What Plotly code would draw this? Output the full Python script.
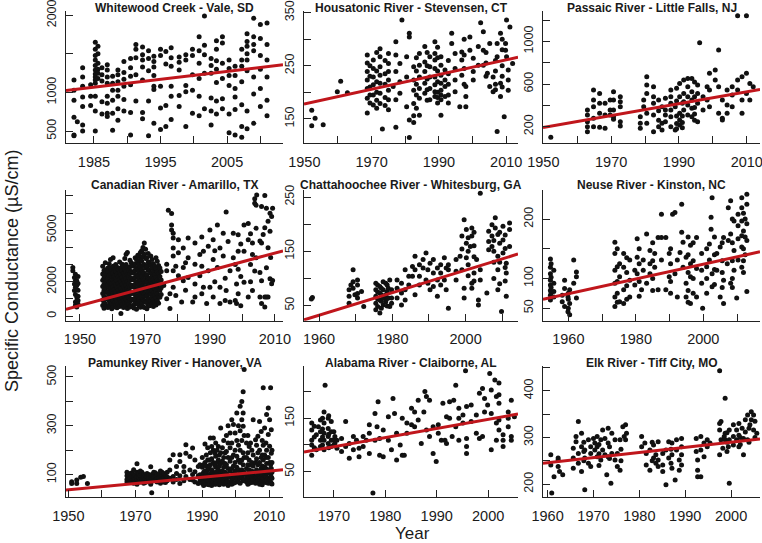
import plotly.graph_objects as go

# values: (sample year, [specific conductance values])
whitewood = [
    (1982.0, [1160, 1030, 900, 680, 450, 440]), (1982.5, [620]),
    (1983.3, [1320, 1200, 1080, 940, 820, 580, 500]), (1984.5, [1100, 950, 830]),
    (1985.2, [1650, 1560, 1480, 1420, 1350, 1290, 1240, 1200, 1160, 1120, 950, 760, 500]),
    (1985.6, [1600, 1500, 1380, 1300, 1250, 1180]), (1986.2, [1320, 1230, 1150, 880, 720]),
    (1987.0, [1360, 1290, 1200, 1120, 950, 860, 730, 690]), (1987.8, [1210, 1120, 1030, 900, 730, 510]),
    (1988.6, [1290, 1230, 1140, 1030, 950, 790, 640]), (1989.5, [1400, 1260, 1170, 1080, 910, 760]),
    (1990.5, [1440, 1320, 1210, 1100, 740, 450]), (1991.3, [1620, 1560, 1450, 1230, 890]),
    (1992.3, [1590, 1490, 1420, 1330, 1160, 740, 660]), (1993.2, [1540, 1440, 1280, 890, 440]),
    (1994.0, [1470, 1400, 1330, 1220, 1080, 1040, 600]), (1995.0, [1560, 1480, 1080, 800, 520]),
    (1995.8, [1530, 1370, 830, 560]), (1996.6, [1580, 1450, 1340, 1080, 950, 650]),
    (1997.8, [1460, 1390, 1290, 960, 820]), (1998.8, [1490, 1420, 1090, 1010, 560]),
    (1999.8, [1560, 1480, 1230, 1030, 730]), (2000.8, [1720, 1540, 1380, 1180, 950, 700]),
    (2001.6, [1990, 1610, 1490, 1250, 790]), (2002.6, [1440, 1350, 1250, 930, 760, 580]),
    (2003.4, [1670, 1560, 1410, 1300, 1130, 890, 720]), (2004.3, [1720, 1640, 1380, 1180, 920, 790]),
    (2005.3, [1420, 1310, 1220, 1090, 720, 480]), (2006.2, [1340, 1220, 1050, 940, 780, 450]),
    (2007.2, [1560, 1420, 1340, 1140, 840, 560, 420]), (2008.0, [1760, 1660, 1600, 1500, 1420, 1280, 760, 530]),
    (2009.0, [1960, 1720, 1620, 1540, 1200, 980, 600]), (2010.0, [1880, 1700, 1480, 1300, 1050, 820]),
    (2011.0, [1900, 1620, 1420, 1200, 900, 700]),
]
housatonic = [
    (1952.2, [166, 137]), (1953.2, [151]), (1955.6, [139]), (1959.8, [201]), (1960.8, [221]), (1962.8, [199]),
    (1968.7, [270, 255, 239, 223, 207, 189, 161]), (1969.5, [250, 230, 210, 195, 180]),
    (1970.5, [261, 245, 229, 214, 195, 176]), (1971.5, [275, 240, 220, 200, 185, 170]),
    (1972.5, [282, 267, 248, 232, 217, 198, 179]), (1973.2, [131]), (1974.0, [260, 235, 215, 190, 175]),
    (1975.0, [273, 254, 239, 223, 204, 186, 167]), (1976.4, [211]), (1977.2, [295, 270, 239, 186, 134]),
    (1978.4, [254, 220, 198]), (1979.0, [336]), (1980.4, [267, 229, 173]), (1981.2, [311, 304, 148, 115]),
    (1982.5, [248, 223, 204, 179, 156, 143]), (1983.3, [265, 240, 215, 195, 170]),
    (1984.2, [273, 251, 229, 207, 189, 157]), (1985.8, [286, 257, 239, 217, 198]),
    (1986.5, [275, 250, 225, 205, 185]), (1987.3, [267, 248, 229, 207, 186]),
    (1988.8, [295, 273, 261, 245, 229, 214, 201, 192]), (1989.6, [285, 265, 240, 220, 200, 190, 180]),
    (1990.6, [267, 251, 232, 217, 204, 195, 186, 157]), (1991.8, [242, 223, 211, 192]),
    (1992.8, [260, 235, 215, 195, 180]), (1993.8, [311, 292]), (1994.8, [273, 245, 223, 201]),
    (1996.2, [173]), (1996.8, [276, 261, 232]), (1997.5, [300, 270, 245, 215]), (1998.0, [211, 192, 173]),
    (1999.2, [304, 279]), (2000.2, [264, 239, 223]), (2001.7, [286, 251]), (2002.4, [331]),
    (2003.2, [314, 251, 279]), (2004.0, [275, 255, 230]), (2004.4, [236]), (2005.1, [292, 211]),
    (2006.1, [201, 229]), (2006.8, [260, 240, 215, 205]), (2007.3, [126, 292, 267]), (2008.3, [217, 311, 192]),
    (2008.8, [300, 280, 250, 230, 210]), (2009.4, [154]), (2009.8, [279, 292]), (2010.1, [336, 267]),
    (2010.6, [242, 223, 204]), (2011.1, [323]), (2011.9, [254]),
]
passaic = [
    (1952.2, [100]), (1963.0, [356, 309, 247, 200, 153]), (1964.8, [544, 450, 388, 278, 200]),
    (1966.6, [512, 419, 325, 194]), (1968.2, [419, 309, 184]), (1969.7, [450, 356, 309]),
    (1970.7, [528, 450, 356, 294, 269]), (1972.7, [481, 434, 388, 247, 206]), (1978.6, [294, 231, 184]),
    (1979.6, [450, 388]), (1980.5, [591, 669, 512, 325, 231]), (1982.5, [575, 481, 419, 309, 153]),
    (1984.0, [450, 350, 260, 200]), (1985.0, [388, 231, 169]), (1986.0, [466, 356, 309, 247]),
    (1987.6, [544, 481, 419, 356, 294, 200]), (1988.9, [388, 169]), (1989.3, [560, 440, 300, 230, 180]),
    (1990.2, [606, 481, 325, 262, 216]), (1991.0, [420, 300, 240, 190]), (1991.4, [638, 512, 434, 356]),
    (1992.6, [653, 575, 481, 403, 309]), (1993.8, [653, 528, 450, 372, 294]),
    (1994.6, [620, 480, 380, 320, 260]), (1995.5, [591, 512, 419, 247]), (1996.1, [987]),
    (1997.1, [481, 356]), (1998.3, [575, 450]), (1999.0, [700, 388, 544]), (2000.7, [731, 638]),
    (2001.7, [919, 575, 325]), (2002.8, [450, 278, 262]), (2004.2, [544, 403, 325]),
    (2005.7, [575, 388, 497]), (2007.3, [1240, 638, 544]), (2008.6, [669, 450, 325]),
    (2009.9, [1240, 700, 512]), (2010.9, [606, 450]), (2011.9, [575]),
]
canadian = [
    (1947.8, [2640, 2830]), (1948.3, [2250, 1870, 1490]), (1948.6, [2440, 2060, 1680, 1260, 820, 630]),
    (1949.0, [2060, 1780, 1110, 880, 535]), (1949.4, [2300, 1900, 1500, 1150, 900, 700]),
    (1957.0, [2900, 2450, 2080, 1720, 1310, 940, 620]), (1957.4, [2650, 2230, 1850, 1500, 1150, 780, 450]),
    (1957.8, [3100, 2700, 2330, 1960, 1580, 1090, 700]), (1958.2, [2480, 2120, 1760, 1380, 1010, 560]),
    (1958.6, [2800, 2590, 2200, 1820, 1420, 980, 500]), (1959.0, [3050, 2360, 1980, 1640, 1260, 880, 650]),
    (1959.4, [3300, 2780, 2410, 2020, 1600, 1200, 800]), (1959.8, [2580, 2250, 1870, 1450, 1070, 720, 430]),
    (1960.2, [3400, 2900, 2510, 2100, 1690, 1320, 910, 520]), (1960.6, [2700, 2320, 1940, 1530, 1180, 760]),
    (1961.0, [3000, 2610, 2180, 1790, 1390, 1010, 610]), (1961.4, [2850, 2440, 2060, 1650, 1240, 850, 480]),
    (1961.8, [2720, 2290, 1900, 1510, 1110, 700]), (1962.2, [3150, 2530, 2140, 1730, 1330, 940, 560]),
    (1962.6, [2820, 2400, 2010, 1600, 1210, 800, 150]), (1963.0, [3020, 2640, 2260, 1860, 1460, 1060, 680]),
    (1963.4, [2900, 2500, 2090, 1700, 1290, 890, 500]), (1963.8, [3350, 2710, 2330, 1930, 1540, 1140, 760]),
    (1964.2, [3600, 3000, 2600, 2210, 1810, 1410, 1000, 600]),
    (1964.6, [3700, 2820, 2420, 2020, 1620, 1220, 820, 440]), (1965.0, [2700, 2300, 1890, 1490, 1090, 690]),
    (1965.4, [3250, 2880, 2480, 2080, 1680, 1280, 880, 530]), (1965.8, [3100, 2600, 2200, 1800, 1400, 1000, 580]),
    (1966.2, [2960, 2560, 2160, 1760, 1360, 960, 620]), (1966.6, [2900, 2500, 2100, 1700, 1300, 900, 470]),
    (1967.0, [3400, 3050, 2650, 2250, 1850, 1450, 1050, 700]),
    (1967.4, [3300, 2800, 2400, 2000, 1600, 1200, 800, 400]),
    (1967.8, [3550, 3150, 2720, 2320, 1920, 1520, 1120, 740]),
    (1968.2, [3500, 3000, 2600, 2200, 1800, 1400, 1000, 600]),
    (1968.6, [3700, 3300, 2850, 2450, 2050, 1650, 1250, 850, 520]),
    (1969.0, [3800, 3200, 2700, 2300, 1900, 1500, 1100, 760]),
    (1969.4, [4000, 3450, 2950, 2550, 2150, 1750, 1350, 950, 560]),
    (1969.8, [4260, 3600, 3000, 2500, 2100, 1700, 1300, 900, 500]),
    (1970.2, [3900, 3350, 2800, 2350, 1950, 1550, 1150, 800]),
    (1970.6, [3400, 2900, 2400, 2000, 1600, 1200, 800, 420]),
    (1971.0, [3650, 3150, 2650, 2200, 1800, 1400, 1000, 650]),
    (1971.4, [3100, 2700, 2200, 1800, 1400, 1000, 600]), (1971.8, [3500, 2950, 2500, 2050, 1650, 1250, 850]),
    (1972.2, [3300, 2800, 2300, 1900, 1500, 1100, 700]), (1972.6, [3050, 2600, 2150, 1750, 1350, 950, 560]),
    (1973.0, [2900, 2400, 2000, 1600, 1200, 800]), (1973.4, [3400, 2750, 2250, 1850, 1450, 1050, 650]),
    (1973.8, [3200, 2600, 2100, 1700, 1300, 900]), (1974.2, [2950, 2450, 2000, 1550, 1150, 750]),
    (1974.6, [2800, 2300, 1900, 1500, 1100]), (1975.0, [2600, 2100, 1650, 1250]),
    (1975.8, [1780]), (1976.7, [3020, 2640, 1010]), (1977.2, [6170]),
    (1977.7, [1300, 440]), (1978.2, [5980, 5310, 5020]), (1978.7, [4550, 4830, 3970, 3500, 2640, 1680]),
    (1979.5, [2900, 1200]), (1980.3, [4450, 3690, 2350]), (1981.3, [820]), (1981.8, [3970, 2830, 2060]),
    (1982.5, [1500, 3100]), (1983.3, [4550, 3400, 2250]), (1984.7, [820]), (1985.4, [4260, 3020, 1870, 1110]),
    (1986.9, [3590, 2350]), (1987.5, [2900, 1300, 4600]), (1988.0, [3780, 1680]), (1989.0, [725]),
    (1989.5, [4070, 2640]), (1990.0, [5020, 1680]), (1991.0, [3300, 4450, 1110]), (1991.5, [2000, 3800]),
    (1992.3, [5310, 2830]), (1993.1, [3970, 1680, 725]), (1994.1, [4830, 3500]), (1994.7, [2200, 900]),
    (1995.0, [6070, 1490]), (1995.6, [4350]), (1996.2, [820, 2640]), (1997.2, [3400, 4830]),
    (1997.8, [3000, 900]), (1998.2, [1870, 725]), (1998.7, [4740, 3780, 2730, 1300]),
    (1999.5, [2300, 4200, 600]), (2000.5, [5310, 3780, 1970]), (2001.8, [5400, 4450, 1110]),
    (2002.5, [3000, 2000, 4800]), (2003.1, [4260, 3590, 1490]), (2003.8, [6840, 6570, 2630]),
    (2004.2, [6460, 5120, 3400]), (2004.4, [7050]), (2005.4, [2540, 1110, 4370]),
    (2005.9, [6380, 4260, 2060, 730]), (2006.4, [4750]), (2006.9, [7030, 5140, 1110, 535]),
    (2007.4, [6280, 2820, 1110]), (2007.9, [5520, 3980, 1110]), (2008.5, [5990, 4940, 2170]),
    (2008.7, [3410]), (2009.0, [5800, 1880]), (2009.3, [6280, 2070]),
]
chattahoochee = [
    (1957.9, [62]), (1958.2, [65]), (1968.2, [67, 79, 54]), (1968.7, [88]), (1969.3, [94, 116, 82]),
    (1969.8, [70]), (1970.5, [97, 88, 72, 64]), (1971.6, [76]), (1972.2, [48]),
    (1975.5, [54, 67, 79, 91, 42]), (1976.0, [48, 62, 75, 88]), (1976.6, [60, 73, 85, 36]),
    (1977.0, [45, 58, 70, 82]), (1977.5, [94, 51, 64, 79]), (1978.2, [91, 70, 57]), (1978.6, [49, 63, 76, 88]),
    (1978.9, [82, 64]), (1979.3, [97, 48]), (1979.8, [64, 79, 54]), (1981.3, [82, 97, 64]),
    (1982.5, [73, 91, 51]), (1983.5, [116, 79, 60]), (1984.5, [104, 88]), (1985.5, [122, 104]),
    (1986.2, [141, 116, 70]), (1987.4, [125, 104, 88]), (1988.4, [119, 135]), (1989.2, [147, 97]),
    (1989.7, [116, 91]), (1990.3, [128, 79]), (1991.2, [110, 135, 85]), (1992.3, [119, 97, 67]),
    (1993.2, [125, 110, 88]), (1994.2, [138, 97]), (1994.7, [119, 79]), (1995.3, [116, 45, 125]),
    (1997.4, [135, 113, 97]), (1998.5, [141]), (1999.0, [178, 154, 116]), (1999.6, [208, 82, 64]),
    (2000.2, [190, 165, 138]), (2000.7, [175, 150, 125, 105]), (2001.3, [159]), (2001.7, [193, 178, 91, 82]),
    (2002.3, [185, 160, 140, 110, 95]), (2003.0, [135]), (2003.5, [60, 51]), (2004.0, [257, 116, 97]),
    (2005.8, [73]), (2006.3, [153, 168, 187]), (2007.2, [178, 199, 159]), (2007.7, [170, 150, 130, 100]),
    (2008.1, [212, 193]), (2008.8, [181, 141, 116, 79]), (2009.3, [185, 165, 130, 90]), (2009.8, [39]),
    (2010.2, [196, 171, 147]), (2010.8, [180, 155, 120, 95]), (2011.1, [128, 110, 67]), (2012.0, [202, 159, 190]),
]
neuse = [
    (1954.7, [133, 119, 108, 97, 89, 80, 72, 64]), (1954.9, [125, 102, 85, 76]), (1955.7, [92, 114, 78, 69]),
    (1958.2, [72, 61]), (1958.9, [97, 83, 53]), (1959.9, [69, 44]), (1960.0, [75, 65, 50]),
    (1960.4, [39, 81, 58]), (1961.6, [131, 92]), (1962.4, [67, 103, 111]),
    (1973.8, [161, 142, 114, 92, 69, 53]), (1974.5, [150, 120, 95, 75, 60]), (1975.2, [125, 103, 61]),
    (1976.4, [142, 119, 81, 58]), (1977.3, [135, 110, 88, 65]), (1978.2, [131, 97, 69]), (1979.7, [114, 89]),
    (1980.4, [167, 136, 108]), (1981.0, [150, 125, 95, 70]), (1981.7, [81]), (1982.2, [114, 131]),
    (1983.2, [175, 92]), (1984.2, [125, 147, 108]), (1985.0, [160, 130, 100, 80]), (1985.6, [142, 119]),
    (1986.6, [169, 81]), (1987.6, [208, 169, 131]), (1988.9, [169, 81]), (1989.9, [103, 142]),
    (1990.3, [150, 125, 95, 75]), (1990.9, [208]), (1991.6, [108, 211]), (1992.3, [131, 69]), (1993.1, [144]),
    (1993.6, [225, 178]), (1994.0, [161, 119]), (1994.9, [136, 92, 69]), (1995.5, [170, 140, 110, 80, 60]),
    (1996.2, [125, 156, 103, 58]), (1997.0, [160, 130, 100, 75]), (1998.0, [169, 117, 69]),
    (1999.5, [142, 114, 92]), (1999.8, [50]), (2001.0, [150, 120, 100, 75]), (2001.8, [131, 158]),
    (2002.3, [183, 203]), (2002.6, [236, 108, 86]), (2003.3, [170, 140, 115, 90]), (2004.0, [142, 114]),
    (2005.0, [153, 69]), (2005.6, [160, 130, 110, 85]), (2006.0, [169, 58, 97]), (2007.1, [125]),
    (2007.4, [219, 164]), (2008.1, [231, 92, 175]), (2008.6, [200, 160, 130, 100, 85]),
    (2009.1, [197, 147, 114]), (2009.9, [67]), (2010.3, [208, 189, 167, 131]),
    (2011.4, [219, 236, 197, 172, 153, 119]), (2011.9, [210, 180, 150, 130, 110]), (2012.4, [200, 170, 140]),
    (2012.9, [242, 225, 192, 164, 78]),
]
pamunkey = [
    (1951.0, [71, 64]), (1952.5, [64, 78]), (1953.7, [89]), (1954.5, [92]), (1955.7, [64]),
    (1967.5, [95, 80, 70, 110]), (1968.0, [90, 78, 100]), (1968.5, [105, 85, 70]), (1969.0, [92, 75, 108]),
    (1969.5, [100, 80, 65, 120]), (1970.0, [98, 82, 70]), (1970.5, [144, 110, 90, 75, 60]),
    (1971.0, [105, 88, 72]), (1971.5, [95, 80, 70, 115]), (1972.0, [92, 78, 110]), (1972.5, [100, 85, 65]),
    (1973.0, [97, 82, 68]), (1973.5, [105, 90, 75]), (1974.0, [100, 85, 72]), (1974.6, [132, 95, 80, 60]),
    (1974.9, [26]), (1975.0, [95, 80, 100]), (1975.5, [110, 90, 75]), (1976.0, [108, 92, 78]),
    (1976.5, [100, 85, 70]), (1977.0, [100, 85, 72]), (1977.5, [115, 95, 80, 65]), (1978.0, [98, 82, 110]),
    (1978.5, [105, 85, 70]), (1979.0, [95, 80, 68]), (1979.5, [110, 90, 75]),
    (1980.3, [160, 119, 85]), (1981.3, [181, 92, 70]), (1982.3, [133, 105, 80]), (1983.3, [154, 181, 64, 95]),
    (1984.5, [133, 112, 75]), (1985.1, [222, 188, 92]), (1986.3, [174, 119, 80]), (1987.1, [209, 78, 100]),
    (1987.8, [160, 112, 70]), (1988.8, [133, 64, 95]), (1989.3, [99, 140, 75]),
    (1990.0, [170, 130, 100, 80, 65]), (1990.4, [140, 110, 85, 70, 55]), (1990.8, [225, 150, 115, 90, 70]),
    (1991.2, [180, 135, 105, 80, 62]), (1991.6, [210, 160, 120, 95, 75, 60]), (1992.0, [160, 125, 95, 75, 58]),
    (1992.4, [250, 190, 140, 105, 85, 65]), (1992.8, [215, 165, 120, 92, 72, 55]),
    (1993.3, [250, 200, 150, 110, 90, 70]), (1993.7, [190, 140, 105, 82, 62]),
    (1994.0, [230, 175, 130, 100, 80, 60]), (1994.4, [200, 150, 112, 88, 68]),
    (1994.8, [215, 160, 120, 95, 75]), (1995.1, [180, 135, 102, 78, 58]),
    (1995.5, [291, 190, 145, 110, 85, 65]), (1996.0, [210, 155, 115, 90, 70]),
    (1996.4, [240, 170, 130, 100, 80, 60]), (1996.8, [190, 145, 110, 85, 65]),
    (1997.2, [260, 195, 140, 105, 85, 70]), (1997.7, [300, 230, 170, 125, 95, 72, 55]),
    (1998.3, [270, 210, 155, 115, 90, 70]), (1998.8, [325, 230, 170, 125, 95, 75, 60]),
    (1999.3, [305, 180, 135, 105, 85, 65]), (1999.8, [270, 200, 150, 115, 88, 68]),
    (2000.3, [352, 240, 175, 130, 100, 80]), (2000.8, [300, 220, 160, 120, 92, 70]),
    (2001.3, [380, 280, 200, 150, 110, 85, 65]), (2001.8, [400, 325, 240, 160, 120, 90]),
    (2002.2, [439, 352, 298, 190, 140, 100, 75]), (2002.5, [531, 260, 170, 110, 80]),
    (2003.2, [230, 170, 125, 95, 70]), (2003.6, [260, 190, 140, 105, 80, 60]),
    (2004.0, [215, 160, 120, 90, 65]), (2004.4, [230, 140, 100, 75]), (2004.8, [200, 150, 115, 88, 68]),
    (2005.2, [325, 180, 135, 100, 80]), (2005.9, [243, 150, 110, 85, 65]), (2006.2, [220, 165, 120, 90, 70]),
    (2006.6, [257, 190, 140, 100, 75]), (2007.1, [318, 200, 150, 110, 80, 60]),
    (2007.6, [277, 170, 125, 90, 70]), (2007.9, [240, 180, 135, 100, 75, 58]),
    (2008.2, [456, 220, 160, 115, 85]), (2008.6, [291, 180, 130, 95, 70]), (2009.0, [230, 170, 125, 92, 68]),
    (2009.2, [346, 200, 145, 105, 75]), (2009.7, [373, 264, 170, 120, 85, 65]),
    (2010.1, [325, 216, 150, 110, 80]), (2010.4, [456, 140, 100, 70]), (2010.6, [284, 188, 125, 90, 65]),
    (2010.8, [200, 150, 110, 85, 62]),
]
alabama = [
    (1965.7, [141, 128, 109, 100, 81]), (1966.2, [135, 115, 95]), (1966.6, [91, 119]), (1967.0, [134]),
    (1967.4, [147, 125, 109, 97]), (1967.8, [150, 130, 115, 100]), (1968.1, [162, 141, 122, 109, 91]),
    (1968.3, [212]), (1968.9, [150, 131, 116, 103]), (1969.0, [155, 120, 95]), (1969.5, [144, 125, 109, 97]),
    (1970.0, [125, 110, 100]), (1970.2, [116, 103]), (1970.6, [109, 94]), (1971.5, [112, 88]),
    (1972.3, [97, 144]), (1973.0, [75, 103]), (1973.8, [116, 91]), (1974.4, [109]), (1974.9, [78, 94]),
    (1975.7, [116, 97]), (1976.3, [109]), (1976.9, [138, 122, 84]), (1977.6, [10]), (1978.0, [159, 109]),
    (1978.4, [134]), (1978.6, [181]), (1978.9, [112, 81]), (1979.6, [128, 78]), (1980.6, [109, 153]),
    (1981.2, [91]), (1981.5, [187]), (1981.8, [159]), (1982.2, [72, 122]), (1982.9, [100]),
    (1983.3, [81, 150]), (1983.7, [81]), (1984.2, [122, 141]), (1985.1, [138, 169]), (1985.7, [162, 134]),
    (1986.4, [184, 147]), (1987.0, [103]), (1987.5, [162]), (1987.7, [200]), (1988.0, [191, 128]),
    (1988.6, [184, 116]), (1989.3, [84, 134]), (1989.9, [69]), (1990.3, [138, 122]), (1990.9, [109]),
    (1991.2, [178]), (1991.6, [109]), (1991.9, [153, 103]), (1992.5, [181, 150]), (1993.0, [116]),
    (1993.3, [184]), (1993.7, [212, 134]), (1994.3, [169, 150, 109]), (1995.1, [156, 141]), (1995.6, [239]),
    (1995.8, [172, 97, 112, 84]), (1996.7, [175, 144]), (1997.7, [122, 156]), (1998.3, [197, 112]),
    (1998.9, [116, 206]), (1999.3, [187, 162]), (1999.9, [175]), (2000.3, [234]), (2000.6, [203, 159, 91]),
    (2001.3, [222]), (2001.6, [191, 141, 109]), (2002.1, [216, 194, 178, 147, 128]),
    (2002.9, [119, 109, 97]), (2003.9, [162, 150, 134]), (2004.5, [184, 109, 116]), (2005.1, [153]),
]
elk = [
    (1960.7, [263, 241]), (1960.9, [181]), (1961.4, [216]), (1962.3, [252, 238, 256]), (1962.6, [227]),
    (1963.3, [220]), (1965.6, [234, 256, 277]), (1966.2, [302, 291]), (1966.7, [334, 266, 245]),
    (1967.4, [280, 309, 227]), (1967.9, [290, 270, 250]), (1968.1, [188, 273, 256]), (1968.9, [295, 245]),
    (1969.4, [280, 266, 238]), (1970.0, [298]), (1970.3, [273, 288]), (1970.8, [259, 302, 280]),
    (1971.2, [285, 265, 240]), (1971.6, [252, 295]), (1972.0, [316, 273]), (1972.5, [298, 263]),
    (1972.9, [220]), (1973.2, [320, 288, 259]), (1973.5, [280, 255]), (1973.8, [202]), (1974.0, [309, 266]),
    (1974.7, [295, 252]), (1975.2, [238, 266]), (1975.8, [295, 230]), (1976.0, [275, 250]), (1976.4, [323]),
    (1976.7, [302]), (1977.0, [327, 295]), (1977.2, [309]), (1980.5, [280, 302]), (1981.2, [288]),
    (1981.5, [241, 266]), (1982.3, [273, 230]), (1982.8, [290, 250]), (1983.1, [256, 284]),
    (1983.6, [263, 245]), (1984.1, [291, 238, 252]), (1985.1, [227, 266, 241]), (1985.8, [199, 273]),
    (1986.4, [291, 256]), (1986.9, [275, 245]), (1987.1, [234, 288, 263]), (1987.8, [209]),
    (1988.1, [273, 295]), (1988.7, [252, 230]), (1989.2, [280, 263, 298, 241]), (1992.4, [298, 270]),
    (1992.7, [252, 230, 216]), (1993.4, [302, 273, 216]), (1994.1, [288, 259]), (1994.8, [280, 295]),
    (1995.4, [288]), (1997.5, [330, 263, 316, 443]), (1997.8, [295, 334]), (1998.2, [277]), (1998.5, [302]),
    (1998.7, [384, 295, 309]), (1999.1, [310, 290, 270]), (1999.4, [280]), (1999.6, [202, 316, 295]),
    (2000.5, [327, 302, 284]), (2001.2, [316, 295]), (2001.7, [330, 305, 280]), (2002.0, [300, 285]),
    (2002.4, [320]), (2002.7, [263, 298]), (2003.1, [338, 312]), (2003.6, [348, 295]), (2003.9, [320, 290]),
    (2004.1, [327]), (2004.4, [355, 338]), (2004.9, [316, 348]), (2005.2, [335, 300]), (2005.6, [309]),
]

titles = ["Whitewood Creek - Vale, SD", "Housatonic River - Stevensen, CT", "Passaic River - Little Falls, NJ",
          "Canadian River - Amarillo, TX", "Chattahoochee River - Whitesburg, GA", "Neuse River - Kinston, NC",
          "Pamunkey River - Hanover, VA", "Alabama River - Claiborne, AL", "Elk River - Tiff City, MO"]
series = [whitewood, housatonic, passaic, canadian, chattahoochee, neuse, pamunkey, alabama, elk]

# trend line values at the left and right edge of each panel
trend_start = [1025, 178, 191, 400, 23.5, 65, 37, 87, 245]
trend_end = [1358, 266, 550, 3800, 145, 145, 120, 158, 297]

x_ticks = [[1985, 1990, 1995, 2000, 2005, 2010], [1950, 1960, 1970, 1980, 1990, 2000, 2010],
           [1950, 1960, 1970, 1980, 1990, 2000, 2010], [1950, 1960, 1970, 1980, 1990, 2000, 2010],
           [1960, 1970, 1980, 1990, 2000, 2010], [1960, 1970, 1980, 1990, 2000, 2010],
           [1950, 1960, 1970, 1980, 1990, 2000, 2010], [1970, 1980, 1990, 2000], [1960, 1970, 1980, 1990, 2000]]
x_labels = [["1985", "", "1995", "", "2005", ""], ["1950", "", "1970", "", "1990", "", "2010"],
            ["1950", "", "1970", "", "1990", "", "2010"], ["1950", "", "1970", "", "1990", "", "2010"],
            ["1960", "", "1980", "", "2000", ""], ["1960", "", "1980", "", "2000", ""],
            ["1950", "", "1970", "", "1990", "", "2010"], ["1970", "1980", "1990", "2000"],
            ["1960", "1970", "1980", "1990", "2000"]]
y_ticks = [[500, 1000, 1500, 2000], [150, 200, 250, 300, 350], [200, 400, 600, 800, 1000, 1200],
           [0, 1000, 2000, 3000, 4000, 5000, 6000, 7000], [50, 100, 150, 200, 250], [50, 100, 150, 200],
           [100, 200, 300, 400, 500], [50, 100, 150, 200], [200, 250, 300, 350, 400, 450]]
y_labels = [["500", "1000", "", "2000"], ["150", "", "250", "", "350"], ["200", "", "600", "", "1000", ""],
            ["0", "", "2000", "", "", "5000", "", ""], ["50", "", "150", "", "250"], ["50", "100", "", "200"],
            ["100", "", "300", "", "500"], ["50", "", "150", ""], ["200", "", "300", "", "400", ""]]

x_ranges = [[1980.8, 2013.4], [1949.9, 2013.5], [1949.9, 2013.9], [1945.7, 2012.5], [1955.9, 2014.3],
            [1952.5, 2016.8], [1949.3, 2014.1], [1964.2, 2005.8], [1959.0, 2006.3]]
y_ranges = [[342, 2055], [104, 353], [44, 1285], [-270, 7345], [22, 263], [29, 249], [7, 545], [2, 248], [172, 453]]

W, H = 762, 543
col_px = [(66, 283), (304, 518), (543, 760)]
row_px = [(11, 143.3), (190, 320.7), (366, 497.3)]
title_px = [8, 185, 362.7]

fig = go.Figure()
layout = {}
for i in range(9):
    r, c = divmod(i, 3)
    n = "" if i == 0 else str(i + 1)
    xs, ys = [], []
    for yr, vals in series[i]:
        for v in vals:
            xs.append(yr)
            ys.append(v)
    fig.add_trace(go.Scatter(x=xs, y=ys, mode="markers", xaxis="x" + n, yaxis="y" + n,
                             marker=dict(color="#111111", size=5, line=dict(width=0)), showlegend=False))
    fig.add_trace(go.Scatter(x=x_ranges[i], y=[trend_start[i], trend_end[i]], mode="lines",
                             xaxis="x" + n, yaxis="y" + n, line=dict(color="#c0161c", width=3),
                             showlegend=False))
    x0, x1 = col_px[c]
    top, bot = row_px[r]
    layout["xaxis" + n] = dict(domain=[x0 / W, x1 / W], anchor="y" + n, range=x_ranges[i], automargin=False,
                               tickvals=x_ticks[i], ticktext=x_labels[i], ticks="inside", ticklen=7,
                               tickcolor="#222", showline=True, linecolor="#222", linewidth=1.2,
                               showgrid=False, zeroline=False, ticklabeloverflow="allow", ticklabelstandoff=5,
                               tickfont=dict(family="Liberation Sans, Arial", size=14.5, color="#1a1a1a"))
    layout["yaxis" + n] = dict(domain=[1 - bot / H, 1 - top / H], anchor="x" + n, range=y_ranges[i],
                               automargin=False, ticklabeloverflow="allow", ticklabelstandoff=4,
                               tickvals=y_ticks[i], ticktext=y_labels[i], ticks="inside", ticklen=7,
                               tickcolor="#222", showline=True, linecolor="#222", linewidth=1.2,
                               showgrid=False, zeroline=False, tickangle=-90,
                               tickfont=dict(family="Liberation Sans, Arial", size=12.5, color="#1a1a1a"))

annotations = []
for i in range(9):
    r, c = divmod(i, 3)
    x0, x1 = col_px[c]
    annotations.append(dict(text="<b>" + titles[i] + "</b>", x=(x0 + x1) / 2 / W, y=1 - title_px[r] / H,
                            xref="paper", yref="paper", xanchor="center", yanchor="middle", showarrow=False,
                            font=dict(family="Liberation Sans, Arial", size=12, color="#1a1a1a")))
annotations.append(dict(text="Specific Conductance (µS/cm)", x=12 / W, y=1 - 271 / H, xref="paper", yref="paper",
                        textangle=-90, showarrow=False, xanchor="center", yanchor="middle",
                        font=dict(family="Liberation Sans, Arial", size=18, color="#1a1a1a")))
annotations.append(dict(text="Year", x=412 / W, y=1 - 533 / H, xref="paper", yref="paper", showarrow=False,
                        xanchor="center", yanchor="middle",
                        font=dict(family="Liberation Sans, Arial", size=17, color="#1a1a1a")))

fig.update_layout(width=W, height=H, margin=dict(l=0, r=0, t=0, b=0, pad=0), autosize=False,
                  paper_bgcolor="white", plot_bgcolor="white", annotations=annotations, **layout)
# page has a default body margin; drop it so the figure sits at the window's corner
fig.write_html("out.html", config={"displayModeBar": False},
               post_script="document.body.style.margin='0px';")
